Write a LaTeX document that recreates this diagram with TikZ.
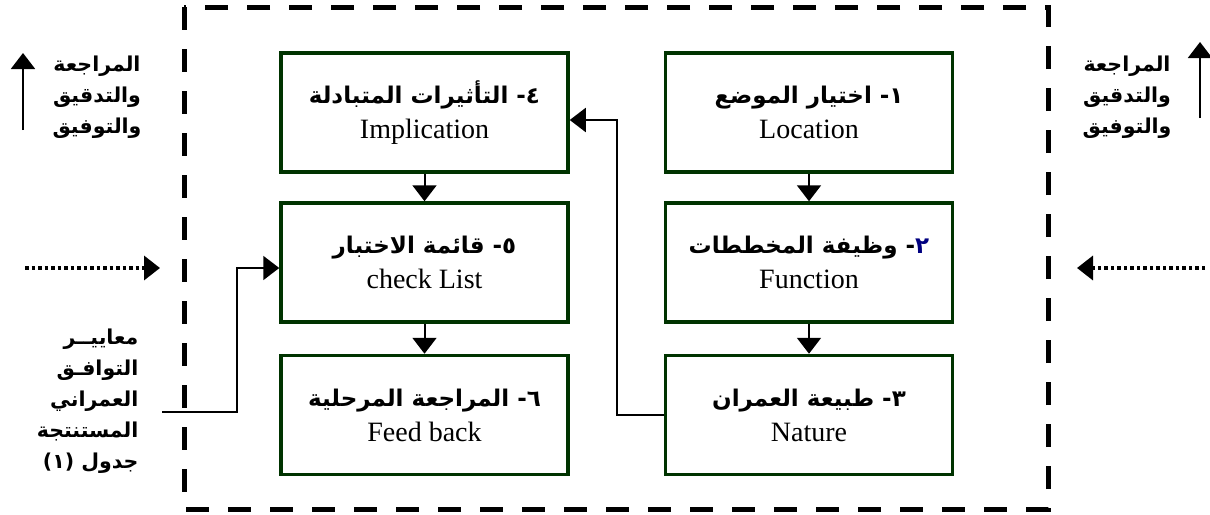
\documentclass[tikz,border=0pt]{standalone}
\usepackage{fontspec}
\setmainfont{Liberation Serif}
\newfontfamily\arabicfont[Script=Arabic]{DejaVu Sans}
\TeXXeTstate=1
\usetikzlibrary{arrows.meta}
\definecolor{boxgreen}{RGB}{0,51,0}
\definecolor{numblue}{RGB}{0,0,128}
\tikzset{>={Triangle[length=16pt,width=24pt]}}
\newcommand{\artext}[1]{{\arabicfont\bfseries\fontsize{23}{35}\selectfont\beginR #1\endR}}
\newcommand{\sidear}[1]{{\arabicfont\bfseries\fontsize{20.5}{31}\selectfont\beginR #1\endR}}

\begin{document}
\begin{tikzpicture}[x=1pt,y=-1pt]
	\tikzstyle{stagebox} = [draw=boxgreen, line width=3.5pt, minimum width=287pt, minimum height=119pt, align=center, font=\fontsize{28}{35}\selectfont]
	\tikzstyle{sidetext} = [align=center, font=\fontsize{20.5}{31}\selectfont]
	\tikzstyle{link} = [->, line width=2pt]
	\tikzstyle{dotlink} = [->, line width=3.5pt, dash pattern=on 3.5pt off 3pt]
	\useasboundingbox (0,0) rectangle (1210,514);

%----------frame------------------------------
	\draw[line width=5pt, dash pattern=on 23pt off 19pt] (184,7) rectangle (1048,509);

%----------right column------------------------------
	\node[stagebox] (loc) at (809,112.5) {\artext{١- اختيار الموضع}\\Location};
	\node[stagebox] (func) at (809,262.5) {{\arabicfont\bfseries\fontsize{23}{35}\selectfont\beginR وظيفة المخططات\endR\ -\textcolor{numblue}{٢}}\\Function};
	\node[stagebox] (nat) at (809,415) {\artext{٣- طبيعة العمران}\\Nature};

	\draw[link] (loc) -- (func);
	\draw[link] (func) -- (nat);

%----------left column------------------------------
	\node[stagebox] (impl) at (424.5,112.5) {\artext{٤- التأثيرات المتبادلة}\\Implication};
	\node[stagebox] (check) at (424.5,262.5) {\artext{٥- قائمة الاختبار}\\check List};
	\node[stagebox] (feed) at (424.5,415) {\artext{٦- المراجعة المرحلية}\\Feed back};

	\draw[link] (impl) -- (check);
	\draw[link] (check) -- (feed);

	% feedback from nature to implication
	\coordinate (upr) at (617,120);
	\draw[link] (nat.west) -| (upr) -- (impl.east |- upr);

%----------outside------------------------------
	\node[sidetext] (revl) at (97,97) {\sidear{المراجعة}\\\sidear{والتدقيق}\\\sidear{والتوفيق}};
	\node[sidetext] (revr) at (1127,97) {\sidear{المراجعة}\\\sidear{والتدقيق}\\\sidear{والتوفيق}};
	\node[sidetext, align=right, anchor=east] (crit) at (142,401) {\sidear{معاييــر}\\\sidear{التوافـق}\\\sidear{العمراني}\\\sidear{المستنتجة}\\\sidear{جدول (١)}};

	\coordinate (critout) at (162,412);
	\coordinate (critup) at (237,268);
	\draw[link] (critout) -| (critup) -- (check.west |- critup);

	\coordinate (ul0) at (23,130);
	\coordinate (ul1) at (23,53);
	\coordinate (ur0) at (1200,118);
	\coordinate (ur1) at (1200,42);
	\draw[link] (ul0) -- (ul1);
	\draw[link] (ur0) -- (ur1);

	\coordinate (dl0) at (25,268);
	\coordinate (dl1) at (160,268);
	\coordinate (dr0) at (1205,268);
	\coordinate (dr1) at (1077,268);
	\draw[dotlink] (dl0) -- (dl1);
	\draw[dotlink] (dr0) -- (dr1);
\end{tikzpicture}
\end{document}
